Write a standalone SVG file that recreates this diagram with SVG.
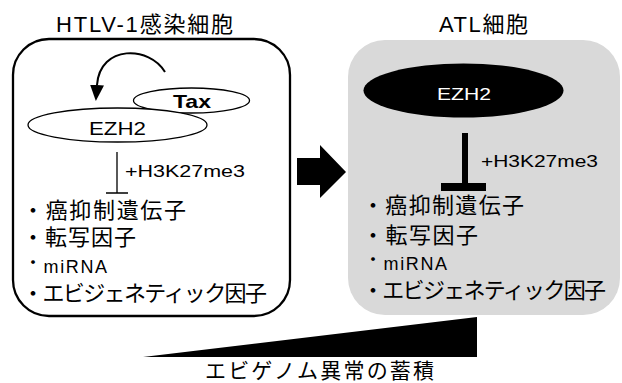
<svg xmlns="http://www.w3.org/2000/svg" width="622" height="383" viewBox="0 0 622 383">
<style>
text{font-family:"Liberation Sans","Noto Sans CJK JP",sans-serif;fill:#000}
.t{font-size:22px}
.li{font-size:22px}
.lat{font-size:16px}
.mi{font-size:18px;letter-spacing:1.6px}
.thin{fill:none;stroke:#000;stroke-width:1.3}
</style>
<defs>
<marker id="ah" markerWidth="16" markerHeight="14" refX="0" refY="7" orient="auto" markerUnits="userSpaceOnUse" viewBox="0 0 16 14">
<path d="M0,0 L16,7 L0,14 Z" fill="#000"/>
</marker>
</defs>
<rect width="622" height="383" fill="#fff"/>

<g id="htlv-cell">
<rect x="13" y="39" width="277" height="277" rx="36" ry="36" fill="#fff" stroke="#000" stroke-width="2.3"/>
<text class="t" x="56" y="32" textLength="177">HTLV-1感染細胞</text>
</g>

<g id="tax">
<ellipse cx="191.5" cy="100.5" rx="58" ry="12.5" class="thin" fill="#fff"/>
<text x="173" y="108" font-size="19" font-weight="bold" textLength="38" lengthAdjust="spacingAndGlyphs">Tax</text>
</g>

<g id="ezh2-left">
<ellipse cx="117.5" cy="125" rx="89.5" ry="17" fill="#fff" stroke="#000" stroke-width="1.3"/>
<text x="89" y="134.5" font-size="18" textLength="57" lengthAdjust="spacingAndGlyphs">EZH2</text>
</g>

<g id="list-left">
<text class="li" x="22" y="218" textLength="164">・癌抑制遺伝子</text>
<text class="li" x="22" y="245" textLength="114">・転写因子</text>
<text class="mi" x="24" y="273"><tspan dy="-4">・</tspan><tspan dy="4">miRNA</tspan></text>
<text class="li" x="22" y="301" textLength="245">・エビジェネティック因子</text>
</g>

<g id="atl-cell">
<rect x="348" y="40" width="272" height="275" rx="37" ry="37" fill="#d9d9d9"/>
<text class="t" x="439" y="32" textLength="89">ATL細胞</text>
</g>

<g id="ezh2-right">
<ellipse cx="463.5" cy="90.5" rx="100" ry="27" fill="#000"/>
<text x="437" y="100" font-size="17" textLength="54" lengthAdjust="spacingAndGlyphs" style="fill:#fff">EZH2</text>
</g>

<g id="list-right">
<text class="li" x="362" y="213" textLength="162">・癌抑制遺伝子</text>
<text class="li" x="362" y="243" textLength="116">・転写因子</text>
<text class="mi" x="364" y="270"><tspan dy="-4">・</tspan><tspan dy="4">miRNA</tspan></text>
<text class="li" x="362" y="298" textLength="244">・エビジェネティック因子</text>
</g>

<g id="transition-arrow">
<polygon points="297,158 320,158 320,145 346,172 320,198 320,185 297,185" fill="#000"/>
</g>

<g id="accumulation">
<polygon points="143,357 477,317 477,357" fill="#000"/>
<text x="205" y="378" font-size="21" textLength="229">エビゲノム異常の蓄積</text>
</g>

<g id="connectors">
<path d="M165,72 C150,46 100,44 97,85" fill="none" stroke="#000" stroke-width="2" marker-end="url(#ah)"/>
<path d="M117,152 V193 M106,193 H128" class="thin"/>
<text class="lat" x="125" y="177" textLength="120" lengthAdjust="spacingAndGlyphs">+H3K27me3</text>
<rect x="462" y="133" width="6" height="52" fill="#000"/>
<rect x="441" y="183" width="45" height="8" fill="#000"/>
<text class="lat" x="481" y="167" textLength="117" lengthAdjust="spacingAndGlyphs">+H3K27me3</text>
</g>
</svg>
